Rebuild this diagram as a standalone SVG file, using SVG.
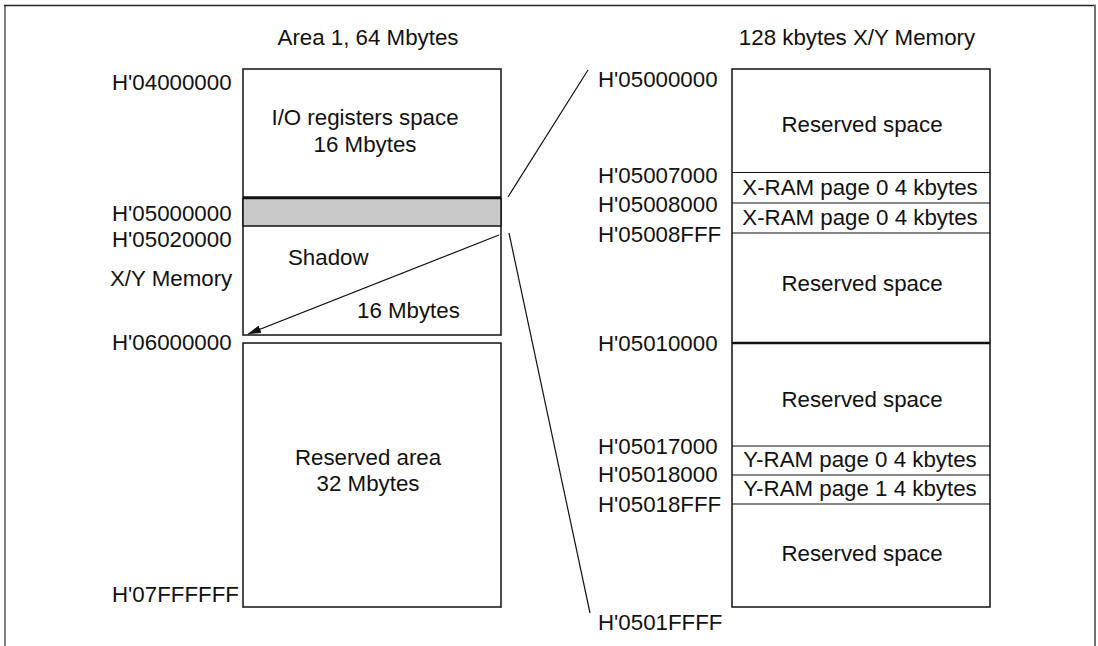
<svg xmlns="http://www.w3.org/2000/svg" width="1098" height="646" viewBox="0 0 1098 646">
<style>
text{font-family:"Liberation Sans",Arial,sans-serif;font-size:22.3px;fill:#111}
.c{text-anchor:middle}
.box{fill:none;stroke:#111;stroke-width:1.5}
.thin{stroke:#111;stroke-width:1.2;fill:none}
.thick{stroke:#111;stroke-width:2.6}
</style>
<defs>
<marker id="ah" viewBox="0 0 13 8" refX="13" refY="4" markerWidth="13" markerHeight="8" markerUnits="userSpaceOnUse" orient="auto">
<path d="M0,0 L13,4 L0,8 Z" fill="#111"/>
</marker>
</defs>
<rect width="1098" height="646" fill="#fff"/>
<g id="frame">
<line x1="5" y1="5" x2="5" y2="646" stroke="#808080" stroke-width="2"/>
<line x1="4" y1="5.5" x2="1096" y2="5.5" stroke="#222" stroke-width="1.5"/>
<line x1="1095" y1="5" x2="1095" y2="646" stroke="#707070" stroke-width="2"/>
</g>
<g id="left-title"><text class="c" x="368" y="45">Area 1, 64 Mbytes</text></g>
<g id="io-space">
<rect class="box" x="243" y="69" width="258" height="266"/>
<text class="c" x="365" y="125">I/O registers space</text>
<text class="c" x="365" y="152">16 Mbytes</text>
</g>
<g id="xy-band">
<rect x="243" y="198.5" width="258" height="27.5" fill="#c8c8c8" stroke="#111" stroke-width="1.5"/>
<line class="thick" x1="243" y1="197.5" x2="501" y2="197.5"/>
</g>
<g id="shadow">
<text x="288" y="265">Shadow</text>
<text x="357" y="318">16 Mbytes</text>
</g>
<g id="reserved-area">
<rect class="box" x="243" y="343" width="258" height="264"/>
<text class="c" x="368" y="465">Reserved area</text>
<text class="c" x="368" y="491">32 Mbytes</text>
</g>
<g id="left-labels">
<text x="112" y="90">H'04000000</text>
<text x="112" y="221">H'05000000</text>
<text x="112" y="247">H'05020000</text>
<text x="110" y="286">X/Y Memory</text>
<text x="112" y="350">H'06000000</text>
<text x="112" y="602">H'07FFFFFF</text>
</g>
<g id="right-title"><text class="c" x="857" y="45">128 kbytes X/Y Memory</text></g>
<g id="xy-memory">
<rect class="box" x="732" y="69" width="258" height="538"/>
<line class="thin" x1="732" y1="172.5" x2="990" y2="172.5"/>
<line class="thin" x1="732" y1="203" x2="990" y2="203"/>
<line class="thin" x1="732" y1="233" x2="990" y2="233"/>
<line class="thick" x1="732" y1="343" x2="990" y2="343"/>
<line class="thin" x1="732" y1="446" x2="990" y2="446"/>
<line class="thin" x1="732" y1="475" x2="990" y2="475"/>
<line class="thin" x1="732" y1="504" x2="990" y2="504"/>
<text class="c" x="862" y="132">Reserved space</text>
<text class="c" x="860" y="195">X-RAM page 0 4 kbytes</text>
<text class="c" x="860" y="225">X-RAM page 0 4 kbytes</text>
<text class="c" x="862" y="291">Reserved space</text>
<text class="c" x="862" y="407">Reserved space</text>
<text class="c" x="860" y="467">Y-RAM page 0 4 kbytes</text>
<text class="c" x="860" y="496">Y-RAM page 1 4 kbytes</text>
<text class="c" x="862" y="561">Reserved space</text>
</g>
<g id="right-labels">
<text x="598" y="87">H'05000000</text>
<text x="598" y="183">H'05007000</text>
<text x="598" y="212">H'05008000</text>
<text x="598" y="242">H'05008FFF</text>
<text x="598" y="351">H'05010000</text>
<text x="598" y="454">H'05017000</text>
<text x="598" y="482">H'05018000</text>
<text x="598" y="512">H'05018FFF</text>
<text x="598" y="630">H'0501FFFF</text>
</g>
<g id="connectors">
<line class="thin" x1="508" y1="197" x2="588" y2="70"/>
<line class="thin" x1="509" y1="233" x2="590" y2="613"/>
<line class="thin" x1="499" y1="235" x2="248" y2="334" marker-end="url(#ah)"/>
</g>
</svg>
